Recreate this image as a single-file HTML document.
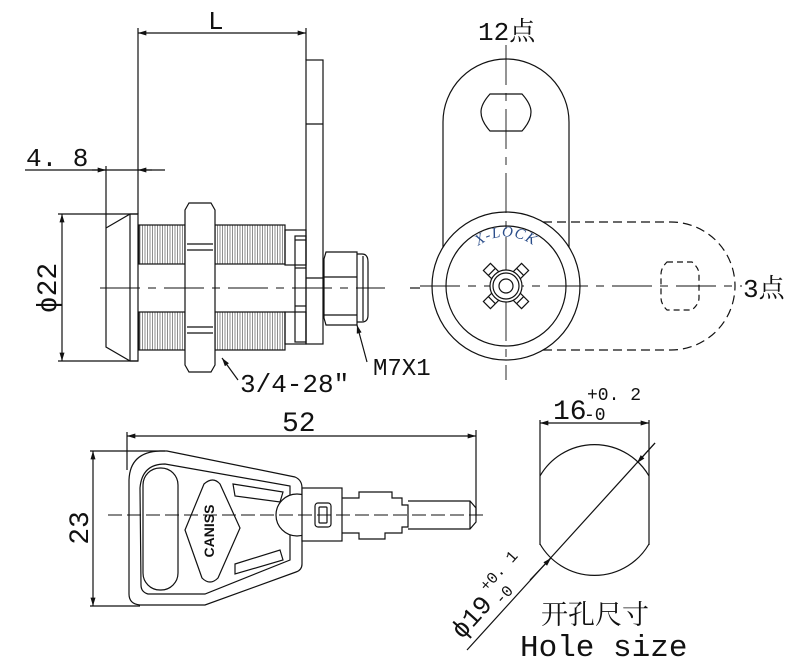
<!DOCTYPE html>
<html><head><meta charset="utf-8"><style>
html,body{margin:0;padding:0;background:#fff}
svg{display:block}
</style></head><body>
<svg width="799" height="669" viewBox="0 0 799 669" xmlns="http://www.w3.org/2000/svg">
<defs>
<pattern id="thr" x="139" y="0" width="5" height="60" patternUnits="userSpaceOnUse">
<path d="M1 0V60M3.5 0V60" stroke="#444" stroke-width="0.6"/>
</pattern>
<marker id="ar" viewBox="0 0 10 6" refX="10" refY="3" markerWidth="12" markerHeight="5" orient="auto-start-reverse" markerUnits="userSpaceOnUse"><path d="M0 0L10 3L0 6Z" fill="#111"/></marker>
</defs>
<g fill="none" stroke="#111" stroke-width="1.2">
<line x1="138" y1="33" x2="306" y2="33" marker-start="url(#ar)" marker-end="url(#ar)"/>
<line x1="138" y1="28" x2="138" y2="214"/>
<line x1="306" y1="28" x2="306" y2="60"/>
<line x1="25" y1="170" x2="165" y2="170"/>
<line x1="92" y1="170" x2="106" y2="170" marker-end="url(#ar)"/>
<line x1="152" y1="170" x2="138" y2="170" marker-end="url(#ar)"/>
<line x1="106" y1="166" x2="106" y2="228"/>
<rect x="306" y="60" width="17" height="284"/>
<line x1="306" y1="124" x2="323" y2="124"/>
<line x1="306" y1="278" x2="323" y2="278"/>
<path d="M106 228V347L130 361H138V214H130L106 228"/>
<line x1="130" y1="214" x2="130" y2="361"/>
<line x1="58" y1="214" x2="138" y2="214"/>
<line x1="58" y1="361" x2="138" y2="361"/>
<line x1="62" y1="214" x2="62" y2="361" marker-start="url(#ar)" marker-end="url(#ar)"/>
<rect x="139" y="225" width="46" height="39" fill="url(#thr)"/>
<rect x="215" y="225" width="70" height="39" fill="url(#thr)"/>
<rect x="139" y="312" width="46" height="38" fill="url(#thr)"/>
<rect x="215" y="312" width="70" height="38" fill="url(#thr)"/>
<path d="M189 203H211L215 210V365L211 372H189L185 365V210Z" fill="#fff"/>
<line x1="187" y1="244" x2="213" y2="244"/><line x1="187" y1="250" x2="213" y2="250"/>
<line x1="187" y1="327" x2="213" y2="327"/><line x1="187" y1="333" x2="213" y2="333"/>
<rect x="285" y="230" width="21" height="35"/>
<rect x="285" y="312" width="21" height="32"/>
<rect x="295" y="236" width="11" height="106"/>
<line x1="295" y1="240" x2="306" y2="240"/>
<line x1="295" y1="268" x2="306" y2="268"/><line x1="295" y1="306" x2="306" y2="306"/>
<path d="M326 252H357V325H326L324 318V259Z"/>
<line x1="324" y1="277" x2="357" y2="277"/><line x1="324" y1="315" x2="357" y2="315"/>
<path d="M357 254H362Q368 254 368 262V315Q368 322 362 322H357"/>
<line x1="363" y1="256" x2="363" y2="321"/>
<line x1="100" y1="288" x2="385" y2="288" stroke-dasharray="40 8 8 8" stroke-width="0.9"/>
<line x1="410" y1="288" x2="420" y2="288"/>
<line x1="238" y1="380" x2="222" y2="358" marker-end="url(#ar)"/>
<line x1="367" y1="362" x2="357" y2="325" marker-end="url(#ar)"/>

<path d="M443 250V122A63 63 0 0 1 569 122V250"/>
<path d="M490 94H522Q531 104 531 112Q531 121 522 131H490Q481 121 481 112Q481 104 490 94Z" fill="#fff"/>
<circle cx="506" cy="286" r="74" fill="#fff"/>
<circle cx="506" cy="286" r="60"/>
<path d="M543 222H671A64 64 0 0 1 671 350H543" stroke-dasharray="9 5"/>
<path d="M667 262H692Q699 268 699 274V298Q699 304 692 310H667Q661 304 661 298V274Q661 268 667 262Z" stroke-dasharray="6 4"/>
<line x1="506" y1="45" x2="506" y2="380" stroke-dasharray="40 8 8 8" stroke-width="0.9"/>
<line x1="420" y1="286" x2="742" y2="286" stroke-dasharray="40 8 8 8" stroke-width="0.9"/>
<g transform="translate(506,286) rotate(45)">
<rect x="-27" y="-5" width="54" height="10"/><rect x="-5" y="-27" width="10" height="54"/>
<line x1="-20" y1="-5" x2="-20" y2="5"/><line x1="20" y1="-5" x2="20" y2="5"/>
<line x1="-5" y1="-20" x2="5" y2="-20"/><line x1="-5" y1="20" x2="5" y2="20"/>
</g>
<circle cx="506" cy="286" r="16" fill="#fff"/>
<circle cx="506" cy="286" r="13"/>
<circle cx="506" cy="286" r="7"/>

<line x1="127" y1="436" x2="476" y2="436" marker-start="url(#ar)" marker-end="url(#ar)"/>
<line x1="127" y1="432" x2="127" y2="470"/>
<line x1="476" y1="430" x2="476" y2="515"/>
<line x1="90" y1="451" x2="165" y2="451"/>
<line x1="90" y1="606" x2="140" y2="606"/>
<line x1="93" y1="451" x2="93" y2="606" marker-start="url(#ar)" marker-end="url(#ar)"/>
<path d="M129 480Q130 452 160 451H167L295 477Q302 480 302 488V564Q302 570 296 572L205 605H140Q129 604 129 594Z"/>
<path d="M140 488Q142 464 165 464L290 486V560L205 594H148Q141 592 141 585Z"/>
<rect x="143" y="468" width="35" height="122" rx="17"/>
<path d="M185 530L204 484Q213 476 220 484L240 528L218 578Q210 586 202 578Z"/>
<path d="M233 484L283 492L280 502L235 496Z"/><path d="M235 564L280 550L283 560L235 574Z"/>
<circle cx="297" cy="515" r="21" fill="#fff"/>
<rect x="302" y="488" width="40" height="53" fill="#fff"/>
<rect x="315" y="503" width="16" height="24" rx="3"/>
<rect x="319" y="507" width="8" height="16" rx="1"/>
<path d="M342 498H359V492H392V498H402V505H408V527H402V533H385V539H359V533H342"/>
<path d="M408 501H470L476 508V522L470 529H408"/>
<line x1="470" y1="501" x2="470" y2="529"/>
<line x1="108" y1="515" x2="486" y2="515" stroke-dasharray="14 5" stroke-width="0.9"/>

<line x1="540" y1="423" x2="649" y2="423" marker-start="url(#ar)" marker-end="url(#ar)"/>
<line x1="540" y1="420" x2="540" y2="545"/>
<line x1="649" y1="420" x2="649" y2="545"/>
<path d="M540 476A63 63 0 0 1 649 476"/>
<path d="M540 544A63 63 0 0 0 649 544"/>
<line x1="467" y1="650" x2="655" y2="443"/>
<line x1="655" y1="443" x2="637" y2="463" marker-end="url(#ar)"/>
<line x1="530" y1="580" x2="551" y2="558" marker-end="url(#ar)"/>
</g>
<g style="font-family:'Liberation Mono','Noto Serif CJK SC',monospace" fill="#111">
<text x="208" y="29" font-size="26">L</text>
<text x="26" y="166" font-size="26">4. 8</text>
<text transform="translate(56,288) rotate(-90)" font-size="28" text-anchor="middle">ɸ22</text>
<text x="240" y="392" font-size="26">3/4-28″</text>
<text x="373" y="375" font-size="24">M7X1</text>
<text x="478" y="40" font-size="26">12<tspan style="font-family:'Noto Serif CJK SC',serif">点</tspan></text>
<text x="743" y="297" font-size="26">3<tspan style="font-family:'Noto Serif CJK SC',serif">点</tspan></text>
<text x="282" y="431" font-size="28">52</text>
<text transform="translate(88,528) rotate(-90)" font-size="28" text-anchor="middle">23</text>
<text x="553" y="419" font-size="28">16</text>
<text x="587" y="400" font-size="18">+0. 2</text>
<text x="584" y="420" font-size="18">-0</text>
<g transform="translate(462,640) rotate(-48)">
<text x="0" y="0" font-size="26">ɸ19</text>
<text x="52" y="-14" font-size="16">+0. 1</text>
<text x="52" y="6" font-size="16">-0</text>
</g>
<text x="541" y="624" font-size="27" style="font-family:'Noto Serif CJK SC',serif">开孔尺寸</text>
<text x="520" y="656" font-size="31">Hole size</text>
</g>
<path id="xl" d="M470 254A46 46 0 0 1 542 254" fill="none"/>
<text font-size="15" style="fill:#2a4d8a;font-style:italic;font-family:'Liberation Serif',serif;letter-spacing:1px" text-anchor="middle"><textPath href="#xl" startOffset="50%">X-LOCK</textPath></text>
<text transform="translate(214,531) rotate(-90)" font-size="14" text-anchor="middle" style="font-family:'Liberation Sans',sans-serif;font-weight:bold" fill="#111">CANISS</text>
</svg>
</body></html>
